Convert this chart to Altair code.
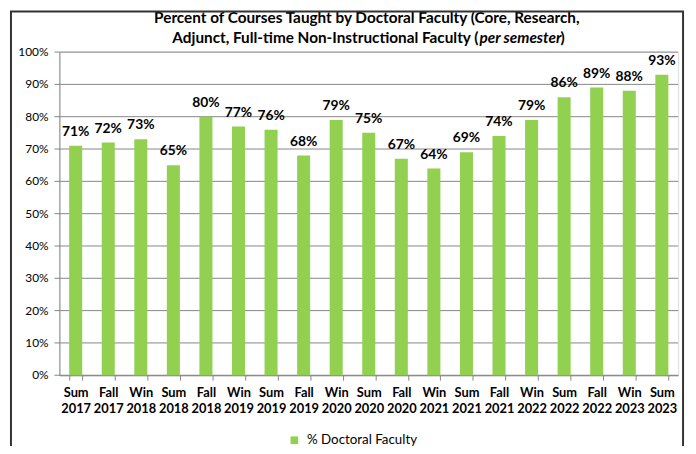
import altair as alt
import pandas as pd

terms = ["Sum 2017", "Fall 2017", "Win 2018", "Sum 2018", "Fall 2018", "Win 2019",
         "Sum 2019", "Fall 2019", "Win 2020", "Sum 2020", "Fall 2020", "Win 2021",
         "Sum 2021", "Fall 2021", "Win 2022", "Sum 2022", "Fall 2022", "Win 2023",
         "Sum 2023"]
values = [71, 72, 73, 65, 80, 77, 76, 68, 79, 75, 67, 64, 69, 74, 79, 86, 89, 88, 93]
y_ticks = [0, 10, 20, 30, 40, 50, 60, 70, 80, 90, 100]
series_name = "% Doctoral Faculty"
title_line1 = "Percent of Courses Taught by Doctoral Faculty (Core, Research,"
title_line2a = "Adjunct, Full-time Non-Instructional Faculty ("
title_line2b = "per semester"
title_line2c = ")"

df = pd.DataFrame({"term": terms, "pct": values, "series": series_name,
                   "lab": [f"{v}%" for v in values]})
ticks_df = pd.DataFrame({"pct": y_ticks, "lab": [f"{v}%" for v in y_ticks]})
FONT = "Lato"
GRID = "#868686"

yscale = alt.Scale(domain=[0, 100], nice=False, zero=True)

x = alt.X("term:N", sort=terms, title=None,
          scale=alt.Scale(paddingInner=0.6, paddingOuter=0.3),
          axis=alt.Axis(labelAngle=0, labelExpr="split(datum.label, ' ')",
                        labelFont=FONT, labelFontSize=13, labelFontWeight="bold",
                        labelColor="black", tickBand="extent", tickSize=5,
                        tickColor=GRID, domainColor=GRID,
                        labelPadding=7, labelLineHeight=16))
y = alt.Y("pct:Q", title=None, scale=yscale,
          axis=alt.Axis(labels=False, ticks=False, grid=False, domain=True,
                        domainColor=GRID))

grid = alt.Chart(ticks_df).mark_rule(color=GRID, strokeWidth=1).encode(
    y=y, x=alt.value(-5), x2=alt.value(626))
ylabels = alt.Chart(ticks_df).mark_text(font=FONT, fontSize=12, color="black",
                                        align="right", baseline="middle").encode(
    y=y, x=alt.value(-11), text="lab:N")

bars = alt.Chart(df).mark_bar(color="#92D050").encode(
    x=x, y=y,
    color=alt.Color("series:N", title=None,
                    scale=alt.Scale(range=["#92D050"]),
                    legend=alt.Legend(orient="none", legendX=231, legendY=386,
                                      symbolType="square", symbolSize=60,
                                      symbolStrokeWidth=0,
                                      labelFont=FONT, labelFontSize=13.5,
                                      labelColor="black", labelOffset=6)))

labels = alt.Chart(df).mark_text(dy=-7, font=FONT, fontSize=14, fontWeight="bold",
                                 color="black", baseline="bottom").encode(
    x=x, y=y, text="lab:N")

one = alt.Chart(pd.DataFrame({"a": [0]}))
t1 = one.mark_text(font=FONT, fontSize=15.5, fontWeight="bold", color="black",
                   align="center", baseline="alphabetic").encode(
    x=alt.value(311), y=alt.value(-29), text=alt.value(title_line1))
t2a = one.mark_text(font=FONT, fontSize=15.5, fontWeight="bold", color="black",
                    align="right", baseline="alphabetic").encode(
    x=alt.value(424), y=alt.value(-9), text=alt.value(title_line2a))
t2b = one.mark_text(font=FONT, fontSize=15.5, fontWeight="bold", fontStyle="italic",
                    color="black", align="left", baseline="alphabetic").encode(
    x=alt.value(425), y=alt.value(-9), text=alt.value(title_line2b))
t2c = one.mark_text(font=FONT, fontSize=15.5, fontWeight="bold", color="black",
                    align="left", baseline="alphabetic").encode(
    x=alt.value(507), y=alt.value(-9), text=alt.value(title_line2c))

border_l = one.mark_rule(color="#333333", strokeWidth=2).encode(
    x=alt.value(-49), y=alt.value(-41), y2=alt.value(400))
border_r = one.mark_rule(color="#333333", strokeWidth=2).encode(
    x=alt.value(631), y=alt.value(-41), y2=alt.value(400))
border_t = one.mark_rule(color="#333333", strokeWidth=2).encode(
    x=alt.value(-50), x2=alt.value(632), y=alt.value(-41))

chart = alt.layer(grid, ylabels, bars, labels, t1, t2a, t2b, t2c,
                  border_l, border_r, border_t).properties(
    width=626, height=327,
    autosize=alt.AutoSizeParams(type="none"),
    padding={"left": 52, "top": 42, "right": 10, "bottom": 69},
).configure_view(stroke=None).configure(background="white")

chart.save("out.html", embed_options={"renderer": "svg", "actions": False})
